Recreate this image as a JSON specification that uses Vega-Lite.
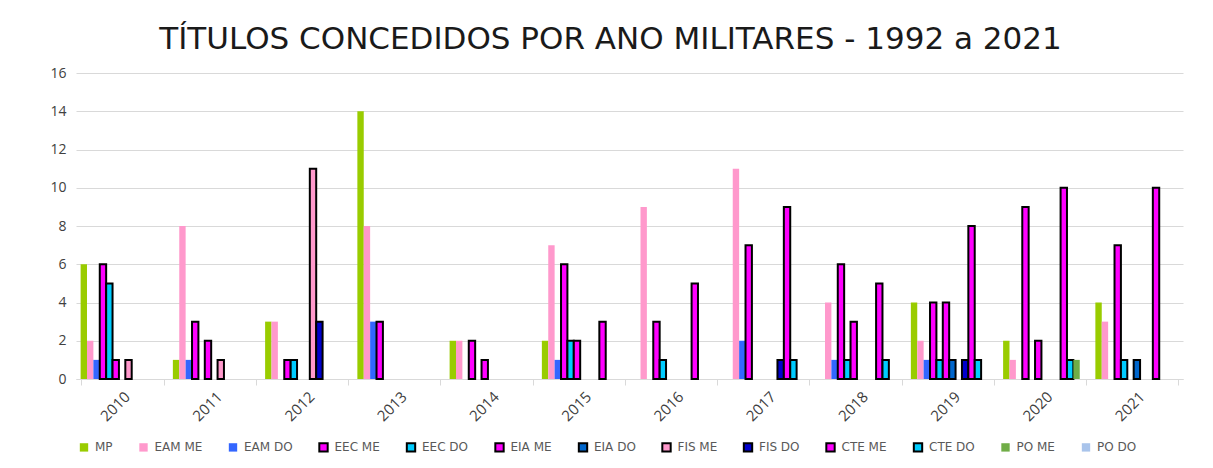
{
  "$schema": "https://vega.github.io/schema/vega-lite/v6.json",
  "autosize": {"type": "none"},
  "width": 1107,
  "height": 306,
  "padding": {"left": 76, "top": 73, "right": 30, "bottom": 89},
  "background": "white",
  "title": {
    "text": "TÍTULOS CONCEDIDOS POR ANO MILITARES - 1992 a 2021",
    "font": "DejaVu Sans",
    "fontSize": 31,
    "fontWeight": "normal",
    "color": "#1a1a1a",
    "anchor": "middle",
    "offset": 10,
    "dx": -19
  },
  "data": {
    "values": [
      {"ano": "2010", "serie": "MP", "valor": 6},
      {"ano": "2010", "serie": "EAM ME", "valor": 2},
      {"ano": "2010", "serie": "EAM DO", "valor": 1},
      {"ano": "2010", "serie": "EEC ME", "valor": 6},
      {"ano": "2010", "serie": "EEC DO", "valor": 5},
      {"ano": "2010", "serie": "EIA ME", "valor": 1},
      {"ano": "2010", "serie": "FIS ME", "valor": 1},
      {"ano": "2011", "serie": "MP", "valor": 1},
      {"ano": "2011", "serie": "EAM ME", "valor": 8},
      {"ano": "2011", "serie": "EAM DO", "valor": 1},
      {"ano": "2011", "serie": "EEC ME", "valor": 3},
      {"ano": "2011", "serie": "EIA ME", "valor": 2},
      {"ano": "2011", "serie": "FIS ME", "valor": 1},
      {"ano": "2012", "serie": "MP", "valor": 3},
      {"ano": "2012", "serie": "EAM ME", "valor": 3},
      {"ano": "2012", "serie": "EEC ME", "valor": 1},
      {"ano": "2012", "serie": "EEC DO", "valor": 1},
      {"ano": "2012", "serie": "FIS ME", "valor": 11},
      {"ano": "2012", "serie": "FIS DO", "valor": 3},
      {"ano": "2013", "serie": "MP", "valor": 14},
      {"ano": "2013", "serie": "EAM ME", "valor": 8},
      {"ano": "2013", "serie": "EAM DO", "valor": 3},
      {"ano": "2013", "serie": "EEC ME", "valor": 3},
      {"ano": "2014", "serie": "MP", "valor": 2},
      {"ano": "2014", "serie": "EAM ME", "valor": 2},
      {"ano": "2014", "serie": "EEC ME", "valor": 2},
      {"ano": "2014", "serie": "EIA ME", "valor": 1},
      {"ano": "2015", "serie": "MP", "valor": 2},
      {"ano": "2015", "serie": "EAM ME", "valor": 7},
      {"ano": "2015", "serie": "EAM DO", "valor": 1},
      {"ano": "2015", "serie": "EEC ME", "valor": 6},
      {"ano": "2015", "serie": "EEC DO", "valor": 2},
      {"ano": "2015", "serie": "EIA ME", "valor": 2},
      {"ano": "2015", "serie": "CTE ME", "valor": 3},
      {"ano": "2016", "serie": "EAM ME", "valor": 9},
      {"ano": "2016", "serie": "EEC ME", "valor": 3},
      {"ano": "2016", "serie": "EEC DO", "valor": 1},
      {"ano": "2016", "serie": "CTE ME", "valor": 5},
      {"ano": "2017", "serie": "EAM ME", "valor": 11},
      {"ano": "2017", "serie": "EAM DO", "valor": 2},
      {"ano": "2017", "serie": "EEC ME", "valor": 7},
      {"ano": "2017", "serie": "FIS DO", "valor": 1},
      {"ano": "2017", "serie": "CTE ME", "valor": 9},
      {"ano": "2017", "serie": "CTE DO", "valor": 1},
      {"ano": "2018", "serie": "EAM ME", "valor": 4},
      {"ano": "2018", "serie": "EAM DO", "valor": 1},
      {"ano": "2018", "serie": "EEC ME", "valor": 6},
      {"ano": "2018", "serie": "EEC DO", "valor": 1},
      {"ano": "2018", "serie": "EIA ME", "valor": 3},
      {"ano": "2018", "serie": "CTE ME", "valor": 5},
      {"ano": "2018", "serie": "CTE DO", "valor": 1},
      {"ano": "2019", "serie": "MP", "valor": 4},
      {"ano": "2019", "serie": "EAM ME", "valor": 2},
      {"ano": "2019", "serie": "EAM DO", "valor": 1},
      {"ano": "2019", "serie": "EEC ME", "valor": 4},
      {"ano": "2019", "serie": "EEC DO", "valor": 1},
      {"ano": "2019", "serie": "EIA ME", "valor": 4},
      {"ano": "2019", "serie": "EIA DO", "valor": 1},
      {"ano": "2019", "serie": "FIS DO", "valor": 1},
      {"ano": "2019", "serie": "CTE ME", "valor": 8},
      {"ano": "2019", "serie": "CTE DO", "valor": 1},
      {"ano": "2020", "serie": "MP", "valor": 2},
      {"ano": "2020", "serie": "EAM ME", "valor": 1},
      {"ano": "2020", "serie": "EEC ME", "valor": 9},
      {"ano": "2020", "serie": "EIA ME", "valor": 2},
      {"ano": "2020", "serie": "CTE ME", "valor": 10},
      {"ano": "2020", "serie": "CTE DO", "valor": 1},
      {"ano": "2020", "serie": "PO ME", "valor": 1},
      {"ano": "2021", "serie": "MP", "valor": 4},
      {"ano": "2021", "serie": "EAM ME", "valor": 3},
      {"ano": "2021", "serie": "EEC ME", "valor": 7},
      {"ano": "2021", "serie": "EEC DO", "valor": 1},
      {"ano": "2021", "serie": "EIA DO", "valor": 1},
      {"ano": "2021", "serie": "CTE ME", "valor": 10}
    ]
  },
  "mark": {"type": "bar", "strokeWidth": 2, "strokeJoin": "miter"},
  "encoding": {
    "x": {
      "field": "ano",
      "type": "nominal",
      "title": null,
      "scale": {"domain": ["2010","2011","2012","2013","2014","2015","2016","2017","2018","2019","2020","2021"], "paddingInner": 0.1, "paddingOuter": 0.05},
      "axis": {
        "labelAngle": -45,
        "labelFont": "Open Sans",
        "labelFontSize": 15,
        "labelColor": "#404040",
        "labelPadding": 4,
        "tickBand": "extent",
        "tickColor": "#d9d9d9",
        "tickSize": 6,
        "domainColor": "#d9d9d9",
        "grid": false
      }
    },
    "xOffset": {
      "field": "serie",
      "type": "nominal",
      "scale": {"domain": ["MP","EAM ME","EAM DO","EEC ME","EEC DO","EIA ME","EIA DO","FIS ME","FIS DO","CTE ME","CTE DO","PO ME","PO DO"], "paddingInner": 0, "paddingOuter": 0}
    },
    "y": {
      "field": "valor",
      "type": "quantitative",
      "title": null,
      "scale": {"domain": [0, 16], "nice": false},
      "axis": {
        "values": [0,2,4,6,8,10,12,14,16],
        "labelFont": "Open Sans",
        "labelFontSize": 14,
        "labelColor": "#404040",
        "labelPadding": 10,
        "ticks": false,
        "domain": false,
        "gridColor": "#d9d9d9",
        "gridWidth": 1
      }
    },
    "color": {
      "field": "serie",
      "type": "nominal",
      "title": null,
      "scale": {
        "domain": ["MP","EAM ME","EAM DO","EEC ME","EEC DO","EIA ME","EIA DO","FIS ME","FIS DO","CTE ME","CTE DO","PO ME","PO DO"],
        "range": ["#99cc00","#ff99cc","#3366ff","#ff00ff","#00ccff","#ff00ff","#0066cc","#ff99cc","#0000cc","#ff00ff","#00ccff","#70ad47","#a9c4eb"]
      },
      "legend": {
        "orient": "none",
        "legendX": 2,
        "legendY": 368,
        "direction": "horizontal",
        "columns": 13,
        "symbolType": "square",
        "symbolSize": 70,
        "symbolStrokeWidth": 2,
        "labelFont": "DejaVu Sans",
        "labelFontSize": 12,
        "labelColor": "#595959",
        "columnPadding": 21.5,
        "labelOffset": 5
      }
    },
    "stroke": {
      "field": "serie",
      "type": "nominal",
      "title": null,
      "scale": {
        "domain": ["MP","EAM ME","EAM DO","EEC ME","EEC DO","EIA ME","EIA DO","FIS ME","FIS DO","CTE ME","CTE DO","PO ME","PO DO"],
        "range": ["transparent","transparent","transparent","black","black","black","black","black","black","black","black","transparent","transparent"]
      }
    }
  },
  "config": {"view": {"stroke": null}}
}
